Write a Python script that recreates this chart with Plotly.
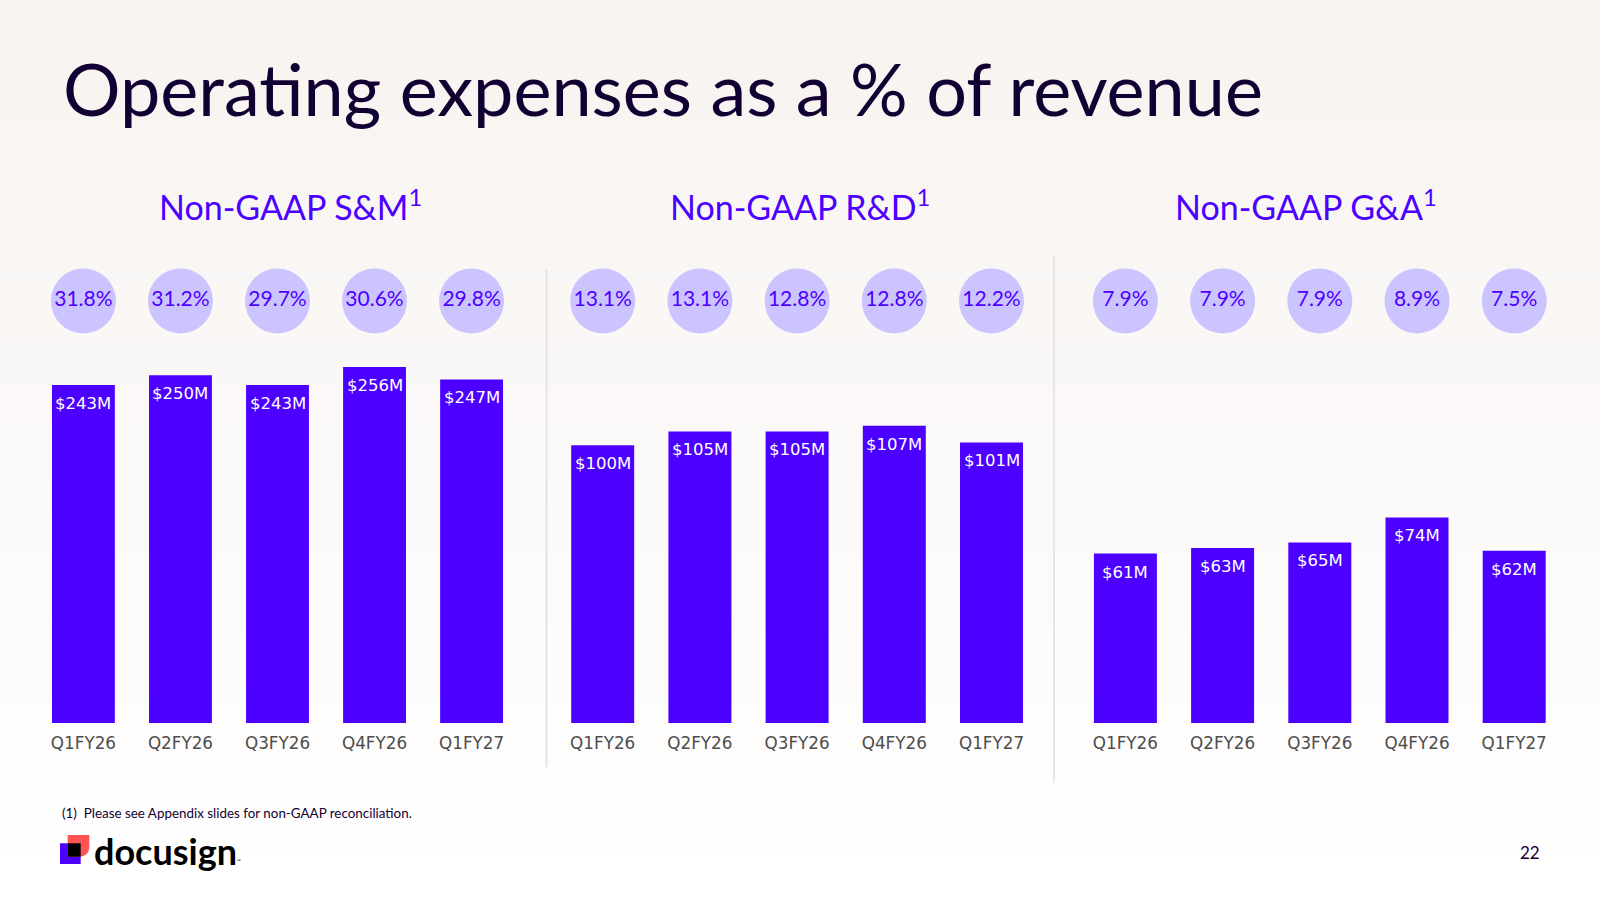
import plotly.graph_objects as go

# ---------------- data ----------------
quarters = ["Q1FY26", "Q2FY26", "Q3FY26", "Q4FY26", "Q1FY27"]
sm_values = [243, 250, 243, 256, 247]
rd_values = [100, 105, 105, 107, 101]
ga_values = [61, 63, 65, 74, 62]
sm_pct = [31.8, 31.2, 29.7, 30.6, 29.8]
rd_pct = [13.1, 13.1, 12.8, 12.8, 12.2]
ga_pct = [7.9, 7.9, 7.9, 8.9, 7.5]
panel_titles = ["Non-GAAP S&M", "Non-GAAP R&D", "Non-GAAP G&A"]

W, H = 1600, 900
def px(x): return x / W
def py(y): return 1 - y / H

BAR = "#4C00FF"
CIRC = "#CCC4FF"
DARK = "#130032"
TITLE_FONT = "Lato"

panels = [
    dict(values=sm_values, pct=sm_pct, dom=(34.9, 520.1), ymax=268.2, circ=65, tx=290),
    dict(values=rd_values, pct=rd_pct, dom=(554.1, 1040.1), ymax=134.3, circ=65, tx=800),
    dict(values=ga_values, pct=ga_pct, dom=(1076.8, 1562.8), ymax=134.3, circ=65, tx=1306),
]

fig = go.Figure()
layout = {}
annotations = []
shapes = []

# background gradient (decorative)
top = (247, 243, 240)
bot = (255, 255, 255)
nb = 60
for i in range(nb):
    t = i / (nb - 1)
    c = tuple(round(top[k] + (bot[k] - top[k]) * t) for k in range(3))
    shapes.append(dict(type="rect", xref="paper", yref="paper",
                       x0=0, x1=1, y0=py((i + 1) * H / nb + 1), y1=py(i * H / nb),
                       fillcolor="rgb(%d,%d,%d)" % c, line=dict(width=0), layer="below"))

for i, p in enumerate(panels):
    n = i + 1
    xa = "x" if n == 1 else "x%d" % n
    ya = "y" if n == 1 else "y%d" % n
    yc = "y%d" % (n + 3)
    fig.add_trace(go.Bar(x=quarters, y=p["values"], xaxis=xa, yaxis=ya,
                         marker=dict(color=BAR, line=dict(width=0)),
                         hoverinfo="skip", showlegend=False))
    fig.add_trace(go.Scatter(x=quarters, y=[0.5] * len(quarters), xaxis=xa, yaxis=yc,
                             mode="markers+text",
                             marker=dict(size=p["circ"], color=CIRC, line=dict(width=0)),
                             text=["%.1f%%" % v for v in p["pct"]],
                             textposition="middle center",
                             textfont=dict(family=TITLE_FONT, size=21, color=BAR),
                             hoverinfo="skip", showlegend=False))
    xkey = "xaxis" if n == 1 else "xaxis%d" % n
    ykey = "yaxis" if n == 1 else "yaxis%d" % n
    layout[xkey] = dict(domain=[px(p["dom"][0]), px(p["dom"][1])], anchor=ya,
                        range=[-0.5, 4.5], type="category", showgrid=False,
                        zeroline=False, showline=False, ticks="",
                        ticklabelstandoff=8,
                        tickfont=dict(family="DejaVu Sans", size=16.8, color="#4D4D4D"),
                        fixedrange=True)
    layout[ykey] = dict(domain=[py(723), py(350)], anchor=xa, range=[0, p["ymax"]],
                        showgrid=False, zeroline=False, showline=False,
                        showticklabels=False, ticks="", fixedrange=True)
    layout["yaxis%d" % (n + 3)] = dict(domain=[py(341), py(261)], anchor=xa,
                                       range=[0, 1], visible=False, fixedrange=True)
    for q, v in zip(quarters, p["values"]):
        annotations.append(dict(x=q, y=v, xref=xa, yref=ya, text="$%dM" % v,
                                showarrow=False, yanchor="middle", yshift=-18.5,
                                font=dict(family="DejaVu Sans", size=16.5, color="white")))
    annotations.append(dict(x=px(p["tx"]), y=py(205), xref="paper", yref="paper",
                            text=panel_titles[i] + "<sup>1</sup>", showarrow=False,
                            xanchor="center", yanchor="middle",
                            font=dict(family=TITLE_FONT, size=34, color=BAR)))

# dividers
shapes.append(dict(type="line", xref="paper", yref="paper", x0=px(546.5), x1=px(546.5),
                   y0=py(767), y1=py(270), line=dict(color="#E2DEDB", width=1.5)))
shapes.append(dict(type="line", xref="paper", yref="paper", x0=px(1054), x1=px(1054),
                   y0=py(783), y1=py(255), line=dict(color="#E2DEDB", width=1.5)))

# logo icon (decorative)
shapes.append(dict(type="rect", xref="paper", yref="paper", x0=px(60), x1=px(80.7),
                   y0=py(864), y1=py(843.3), fillcolor=BAR, line=dict(width=0)))
d_path = "M %f %f L %f %f Q %f %f %f %f L %f %f Q %f %f %f %f L %f %f Z" % (
    px(67.7), py(856.7), px(67.7), py(835), px(78.5), py(835), px(89.3), py(835),
    px(89.3), py(845.8), px(89.3), py(856.7), px(78.5), py(856.7), px(67.7), py(856.7))
shapes.append(dict(type="path", xref="paper", yref="paper", path=d_path,
                   fillcolor="#FF5252", line=dict(width=0)))
shapes.append(dict(type="rect", xref="paper", yref="paper", x0=px(67.7), x1=px(80.7),
                   y0=py(856.7), y1=py(843.3), fillcolor="#000000", line=dict(width=0)))

annotations += [
    dict(x=px(61), y=py(88), xref="paper", yref="paper", xanchor="left", yanchor="middle",
         text="Operating expenses as a % of revenue", showarrow=False,
         font=dict(family=TITLE_FONT, size=72, color=DARK)),
    dict(x=px(60), y=py(813), xref="paper", yref="paper", xanchor="left", yanchor="middle",
         text="(1)  Please see Appendix slides for non-GAAP reconciliation.", showarrow=False,
         font=dict(family=TITLE_FONT, size=13.4, color=DARK)),
    dict(x=px(92), y=py(851), xref="paper", yref="paper", xanchor="left", yanchor="middle",
         text="<b>docusign</b>", showarrow=False,
         font=dict(family=TITLE_FONT, size=36, color="#000000")),
    dict(x=px(235), y=py(861), xref="paper", yref="paper", xanchor="left", yanchor="middle",
         text="™", showarrow=False, font=dict(family=TITLE_FONT, size=5, color="#000000")),
    dict(x=px(1530), y=py(852), xref="paper", yref="paper", xanchor="center", yanchor="middle",
         text="22", showarrow=False, font=dict(family=TITLE_FONT, size=17, color=DARK)),
]

fig.update_layout(width=W, height=H, margin=dict(l=0, r=0, t=0, b=0),
                  paper_bgcolor="white", plot_bgcolor="rgba(0,0,0,0)",
                  bargap=0.352, showlegend=False,
                  annotations=annotations, shapes=shapes, **layout)
fig.write_html("out.html", config={"displayModeBar": False})
